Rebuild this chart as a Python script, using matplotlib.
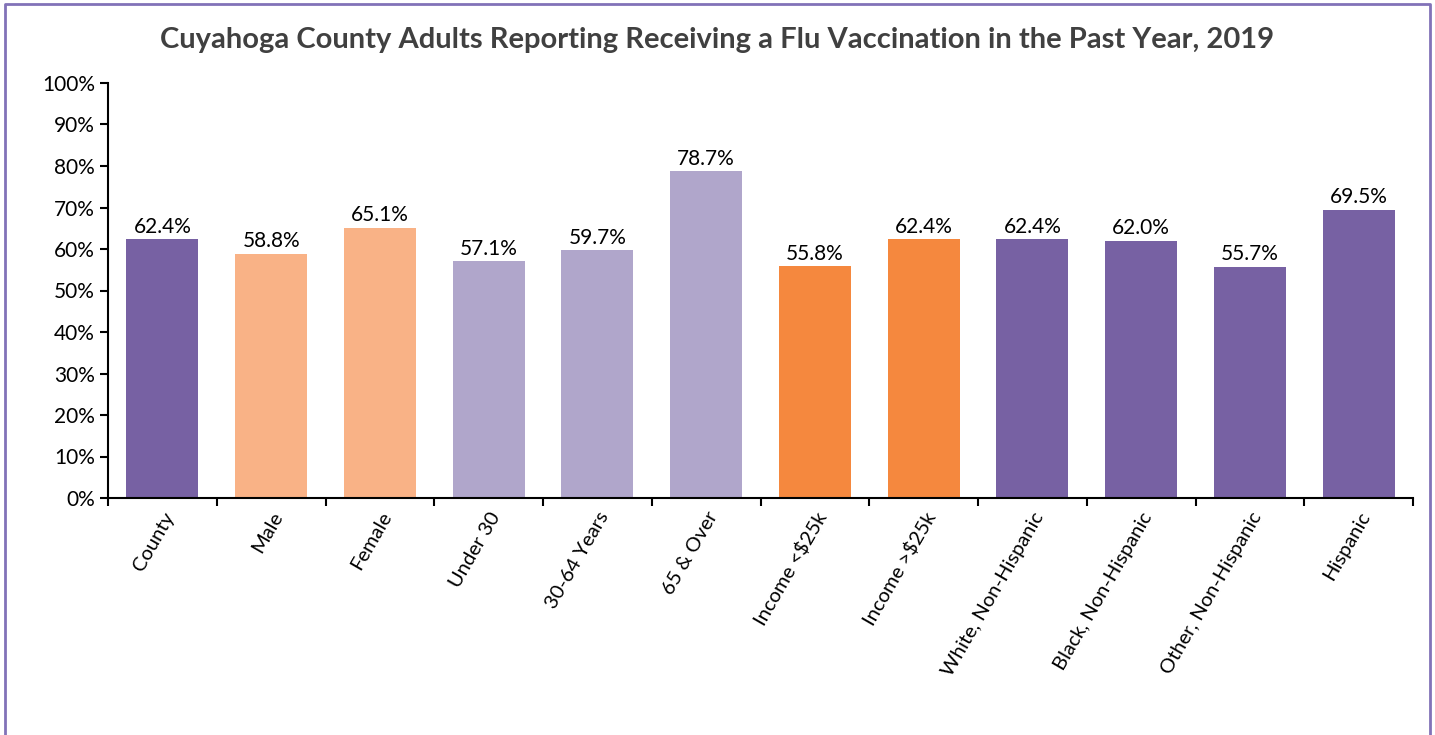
import matplotlib
matplotlib.use('Agg')
from matplotlib import pyplot as plt
from matplotlib.lines import Line2D
import numpy as np

categories = ['County', 'Male', 'Female', 'Under 30', '30-64 Years', '65 & Over',
              'Income <$25k', 'Income >$25k', 'White, Non-Hispanic', 'Black, Non-Hispanic',
              'Other, Non-Hispanic', 'Hispanic']
values = [62.4, 58.8, 65.1, 57.1, 59.7, 78.7, 55.8, 62.4, 62.4, 62.0, 55.7, 69.5]
bar_colors = ['#7761a3', '#f9b286', '#f9b286', '#b0a6cb', '#b0a6cb', '#b0a6cb',
              '#f5883e', '#f5883e', '#7761a3', '#7761a3', '#7761a3', '#7761a3']

plt.rcParams['font.family'] = ['Lato', 'DejaVu Sans']
fs = 15

fig = plt.figure(figsize=(14.35, 7.35), dpi=100)
ax = fig.add_axes([108 / 1435, 1 - 498 / 735, (1413 - 108) / 1435, (498 - 83) / 735])

x = np.arange(len(categories))
ax.bar(x, values, width=0.66, color=bar_colors, zorder=2)
for xi, v in zip(x, values):
    ax.text(xi, v + 0.6, f'{v:.1f}%', ha='center', va='bottom', fontsize=fs, color='#000000')

ax.set_xlim(-0.5, len(categories) - 0.5)
ax.set_ylim(0, 100)
ax.set_yticks(np.arange(0, 101, 10))
ax.set_yticklabels([f'{t}%' for t in range(0, 101, 10)], fontsize=fs)
ax.set_xticks(x)
ax.set_xticklabels(categories, rotation=60, ha='right', rotation_mode='anchor', fontsize=14.5)
ax.tick_params(axis='x', which='major', length=0, pad=8)
ax.set_xticks(np.arange(-0.5, len(categories), 1), minor=True)
ax.tick_params(axis='x', which='minor', length=6, width=1.5, direction='out')
ax.tick_params(axis='y', length=6, width=1.5, direction='out')

ax.spines['top'].set_visible(False)
ax.spines['right'].set_visible(False)
ax.spines['left'].set_linewidth(1.5)
ax.spines['bottom'].set_linewidth(1.5)

fig.text(0.5, 1 - 40 / 735, 'Cuyahoga County Adults Reporting Receiving a Flu Vaccination in the Past Year, 2019',
         ha='center', va='center', fontsize=21, fontweight='bold', color='#404040')

# purple frame, open at the bottom
bc = '#8272b8'
x0, x1, yt = 5 / 1435, 1430 / 1435, 1 - 4 / 735
fig.add_artist(Line2D([x0, x0, x1, x1], [0, yt, yt, 0], transform=fig.transFigure, color=bc, linewidth=2))

fig.savefig('out.png', dpi=100)
